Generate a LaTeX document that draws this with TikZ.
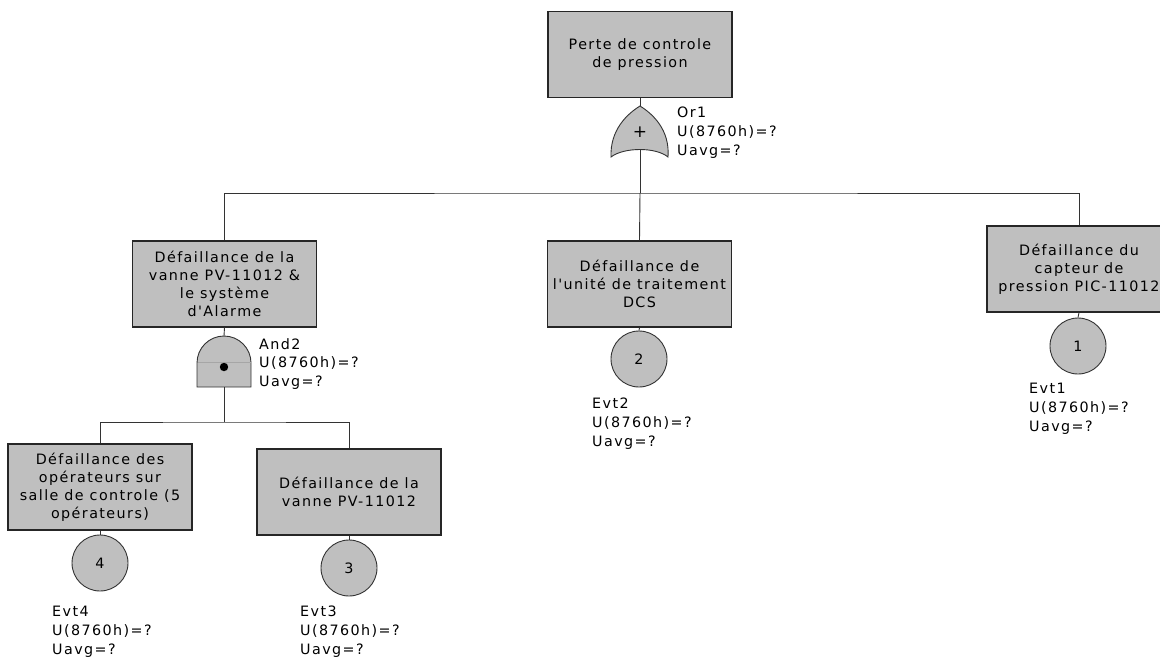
\documentclass[tikz,border=0pt]{standalone}
\usepackage{fontspec}
\newfontfamily\diafont{DejaVu Sans}[LetterSpace=10]
\begin{document}
\begin{tikzpicture}[x=1pt,y=-1pt,
  every node/.style={font=\diafont\fontsize{14.3}{18}\selectfont, text=black},
  evbox/.style={draw=black!85, line width=1.1pt, fill=black!25, minimum width=184pt, minimum height=86pt, align=center, inner sep=1pt},
  basic/.style={draw=black!80, line width=0.9pt, fill=black!25, circle, minimum size=56pt, inner sep=0pt},
  info/.style={anchor=north west, align=left, inner sep=0pt, font=\diafont\fontsize{14.3}{18.7}\selectfont},
  wire/.style={draw=black!80, line width=0.9pt},
  gate/.style={draw=black!80, line width=0.9pt, fill=black!25}]
\useasboundingbox (0,0) rectangle (1160,657);

% boxes
\node[evbox] (top) at (640,54.5) {Perte de controle\\de pression};
\node[evbox] (g2) at (224.5,284) {Défaillance de la\\vanne PV-11012 \&\\le système\\d'Alarme};
\node[evbox] (e2) at (639.5,284) {Défaillance de\\l'unité de traitement\\DCS};
\node[evbox] (e1) at (1079,269) {Défaillance du\\capteur de\\pression PIC-11012};
\node[evbox] (e4) at (100,487) {Défaillance des\\opérateurs sur\\salle de controle (5\\opérateurs)};
\node[evbox] (e3) at (349,492) {Défaillance de la\\vanne PV-11012};

% OR gate
\coordinate (or1top) at (640,106);
\coordinate (or1bot) at (640,149);
\path[gate] (611,157) .. controls (610,130) and (627,114) .. (or1top)
  .. controls (653,114) and (670,130) .. (668,157)
  .. controls (656,147) and (624,147) .. cycle;
\node[inner sep=0pt] (plus) at (640,132) {\fontsize{17}{17}\selectfont +};
\node[info] (or1lab) at (677,107) {Or1\\U(8760h)=?\\Uavg=?};

% AND gate
\coordinate (and2top) at (224,336);
\coordinate (and2bot) at (224,387);
\path[gate] (197,387) -- (197,363) arc[start angle=180, end angle=360, radius=27] -- (251,387) -- cycle;
\draw[black!35, line width=0.6pt] (197.5,362) -- (250.5,362);
\fill[black] (224,367) circle (4.2pt);
\node[info] (and2lab) at (259,338) {And2\\U(8760h)=?\\Uavg=?};

% basic events
\node[basic] (c2) at (639,359) {2};
\node[basic] (c1) at (1078,346) {1};
\node[basic] (c4) at (100,563) {4};
\node[basic] (c3) at (349,568) {3};
\node[info] (l2) at (592,398) {Evt2\\U(8760h)=?\\Uavg=?};
\node[info] (l1) at (1029,383) {Evt1\\U(8760h)=?\\Uavg=?};
\node[info] (l4) at (52,606) {Evt4\\U(8760h)=?\\Uavg=?};
\node[info] (l3) at (300,606) {Evt3\\U(8760h)=?\\Uavg=?};

% connectors
\coordinate (bus1) at (640,193);
\coordinate (bus2) at (224,422);
\draw[wire] (top.south) -- (or1top);
\draw[wire] (or1bot) -- (bus1);
\draw[wire] (g2.north) |- (bus1) -| (e1.north);
\draw[wire] (bus1) -- (e2.north);
\draw[wire] (g2.south) -- (and2top);
\draw[wire] (and2bot) -- (bus2);
\draw[wire] (e4.north) |- (bus2) -| (e3.north);
\draw[wire] (e2.south) -- (c2.north);
\draw[wire] (e1.south) -- (c1.north);
\draw[wire] (e4.south) -- (c4.north);
\draw[wire] (e3.south) -- (c3.north);
\end{tikzpicture}
\end{document}
